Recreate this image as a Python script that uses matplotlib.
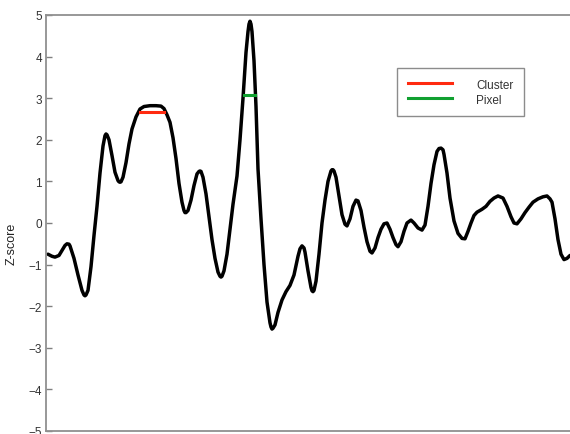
import numpy as np
import matplotlib.pyplot as plt

plt.rcParams['font.family'] = ['Liberation Sans', 'DejaVu Sans']

# position le long du profil (unites arbitraires) et z-score
position = [48, 52, 55, 59, 63, 65, 67, 69, 70, 74, 78, 82, 84, 85, 86, 88, 91, 94, 97, 100, 103, 105, 106, 107, 109, 112,
            115, 118, 119, 120, 121, 123, 126, 129, 132, 136, 140, 144, 150, 156, 161, 164, 167, 170, 173, 176, 179, 182,
            184, 185, 186, 188, 191, 194, 197, 199, 200, 201, 203, 206, 209, 212, 215, 218, 220, 221, 222, 224, 227, 230, 233, 237, 240, 243,
            246, 248, 249, 250, 251, 252, 254, 256, 258, 261, 264, 267, 270, 271, 272, 273, 275, 278, 282, 286, 290, 294, 298, 300, 302, 304,
            305, 308, 311, 312, 313, 314, 316, 319, 322, 325, 328, 331, 332, 333, 334, 336, 339, 342, 345, 347, 350, 353, 356, 358,
            361, 364, 367, 370, 372, 375, 378, 381, 384, 387, 390, 393, 396, 398, 401, 404, 407, 411, 414, 418,
            422, 425, 428, 431, 434, 437, 439, 441, 443, 444, 447, 450, 454, 458, 462, 465, 468, 471, 474, 477, 482, 486,
            490, 494, 498, 503, 507, 511, 514, 517, 521, 525, 529, 533, 538, 543, 547, 550, 552, 555, 558, 561,
            564, 567, 570]
zscore = [-0.75, -0.80, -0.82, -0.78, -0.62, -0.54, -0.50, -0.51, -0.55, -0.85, -1.25, -1.62, -1.73, -1.75, -1.73, -1.62, -1.05, -0.30, 0.40, 1.20, 1.85, 2.10, 2.14, 2.12, 2.00, 1.62,
          1.22, 1.02, 0.99, 0.98, 0.99, 1.10, 1.45, 1.90, 2.26, 2.55, 2.74, 2.80, 2.82, 2.82, 2.81, 2.75, 2.60, 2.42, 2.05, 1.55, 0.95, 0.50,
          0.30, 0.25, 0.25, 0.30, 0.55, 0.90, 1.18, 1.24, 1.25, 1.24, 1.10, 0.70, 0.15, -0.40, -0.85, -1.18, -1.28, -1.30, -1.28, -1.15, -0.75, -0.15, 0.45, 1.13, 2.00, 3.00,
          4.10, 4.60, 4.78, 4.85, 4.78, 4.60, 3.90, 2.80, 1.30, 0.10, -1.00, -1.90, -2.40, -2.50, -2.55, -2.53, -2.45, -2.15, -1.85, -1.65, -1.50, -1.25, -0.80, -0.62, -0.55, -0.60,
          -0.70, -1.15, -1.55, -1.63, -1.65, -1.62, -1.40, -0.75, 0.00, 0.55, 1.00, 1.25, 1.28, 1.28, 1.25, 1.10, 0.65, 0.20, -0.03, -0.07, 0.10, 0.40, 0.55, 0.53,
          0.30, -0.10, -0.45, -0.68, -0.72, -0.60, -0.35, -0.15, -0.02, 0.00, -0.15, -0.35, -0.52, -0.57, -0.45, -0.20, 0.00, 0.07, 0.00, -0.12,
          -0.17, -0.05, 0.40, 0.95, 1.40, 1.72, 1.79, 1.80, 1.76, 1.65, 1.20, 0.60, 0.05, -0.25, -0.37, -0.38, -0.20, 0.00, 0.18, 0.26, 0.33, 0.40,
          0.52, 0.60, 0.65, 0.60, 0.40, 0.15, 0.00, -0.02, 0.10, 0.25, 0.38, 0.50, 0.58, 0.63, 0.65, 0.58, 0.50, 0.10, -0.40, -0.75,
          -0.88, -0.85, -0.78]

# seuils (cluster / pixel)
cluster_x = [140, 164]
cluster_y = [2.68, 2.68]
pixel_x = [244, 255]
pixel_y = [3.08, 3.08]

fig = plt.figure(figsize=(5.7, 4.35), dpi=100)
ax = fig.add_axes([46 / 570, 3 / 435, 530 / 570, 416 / 435])

ax.plot(position, zscore, color='black', lw=2.5, solid_capstyle='round',
        solid_joinstyle='round', zorder=2)
ax.plot(cluster_x, cluster_y, color='#ff2a10', lw=2.2, label='Cluster', zorder=3)
ax.plot(pixel_x, pixel_y, color='#10a030', lw=2.2, label='Pixel', zorder=3)

ax.set_xlim(46, 576)
ax.set_ylim(-5, 5)
ax.set_yticks(np.arange(-5, 6, 1))
ax.set_xticks([])
ax.tick_params(axis='y', direction='in', length=4, width=1, color='#808080',
               labelsize=8.5, labelcolor='#333333', pad=3)

for s in ['left', 'top', 'bottom']:
    ax.spines[s].set_color('#909090')
    ax.spines[s].set_linewidth(1.3)
ax.spines['right'].set_visible(False)

ax.set_ylabel('Z-score', fontsize=9, color='#222222')
ax.yaxis.set_label_coords(-0.053, 0.452)

leg = ax.legend(loc='upper left', bbox_to_anchor=(397 / 570, 1 - 69 / 435),
                bbox_transform=fig.transFigure, borderaxespad=0, frameon=True,
                fancybox=False, edgecolor='#707070', fontsize=8.5,
                handlelength=3.8, handletextpad=2.0, labelspacing=0.25,
                borderpad=0.9)
leg.get_frame().set_linewidth(1.0)
for t in leg.get_texts():
    t.set_color('#333333')

fig.savefig('out.png', dpi=100)
